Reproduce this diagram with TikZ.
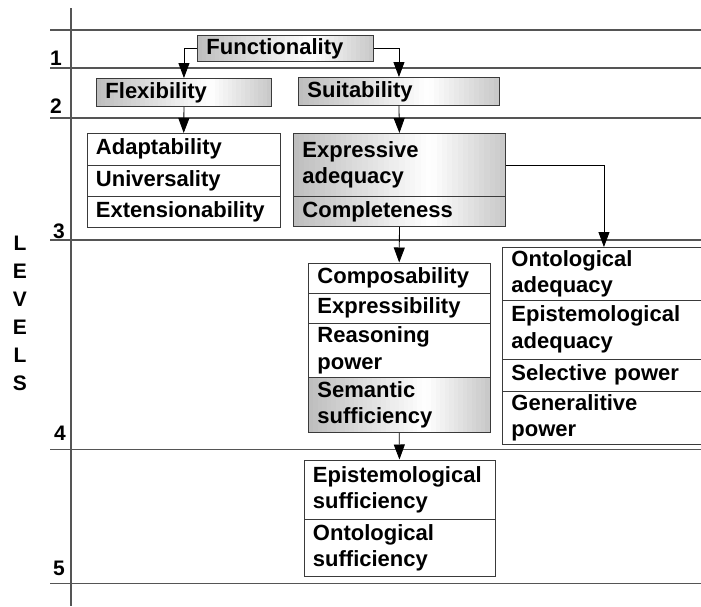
\documentclass[tikz,border=0pt]{standalone}
\usepackage{fontspec}
\setmainfont{Liberation Sans}
\usetikzlibrary{arrows.meta,calc}
\definecolor{boxline}{HTML}{3A3A3A}
\definecolor{levelgray}{HTML}{555555}
\definecolor{shadegray}{HTML}{BDBDBD}
\begin{document}
\begin{tikzpicture}[x=1pt,y=-1pt,
  cell/.style={draw=boxline, line width=0.9pt, anchor=north west,
    inner xsep=9pt, inner ysep=0pt, align=left, text=black,
    font=\bfseries\fontsize{22}{26.5}\selectfont},
  % banded horizontal gradient: gray at the left, white towards the right, gray again
  shaded/.style={path picture={
    \foreach \i in {0,...,39}{
      \pgfmathtruncatemacro\p{((\i+0.5)/40<0.65) ? (0.65-(\i+0.5)/40)/0.65*100 : ((\i+0.5)/40-0.65)/0.35*85}
      \fill[shadegray!\p!white]
        ($(path picture bounding box.south west)!{\i/40}!(path picture bounding box.south east)$)
        rectangle
        ($(path picture bounding box.north west)!{(\i+1.05)/40}!(path picture bounding box.north east)$);
    }}},
  levelline/.style={draw=levelgray, line width=1.3pt},
  link/.style={draw=black, line width=0.8pt, -{Triangle[length=15pt,width=11pt]}},
  levelnum/.style={anchor=base, inner sep=0pt, font=\bfseries\fontsize{21}{22}\selectfont}
]
\useasboundingbox (0,0) rectangle (701,606);

% level axis and separators
\draw[levelgray, line width=1.1pt] (71,8) -- (71,606);
\foreach \y in {30,68,118,240,449.3,583.3}
  \draw[levelline] (50,\y) -- (701,\y);

\node[levelnum] (n1) at (56,65) {1};
\node[levelnum] (n2) at (56,113) {2};
\node[levelnum] (n3) at (59,238) {3};
\node[levelnum] (n4) at (60,440) {4};
\node[levelnum] (n5) at (59,575) {5};
\node[anchor=north, inner sep=0pt, align=center,
  font=\bfseries\fontsize{21}{28}\selectfont] (levels) at (20,236)
  {L\\E\\V\\E\\L\\S};

% level 1 and 2
\node[cell, shaded, text width=158pt, minimum height=26pt] (func) at (197,35) {Functionality};
\node[cell, shaded, text width=157pt, minimum height=28pt] (flex) at (96,78) {Flexibility};
\node[cell, shaded, text width=183pt, minimum height=28pt] (suit) at (298,77) {Suitability};

% level 3
\node[cell, text width=175.5pt, minimum height=31.5pt] (adapt) at (86.5,133) {Adaptability};
\node[cell, text width=175.5pt, minimum height=31pt] (univ) at (86.5,164.5) {Universality};
\node[cell, text width=175.5pt, minimum height=31pt] (ext) at (86.5,195.5) {Extensionability};

\node[cell, shaded, text width=194pt, minimum height=63pt] (expr) at (293,133) {Expressive\\adequacy};
\node[cell, shaded, text width=194pt, minimum height=30pt] (compl) at (293,196) {Completeness};

% level 4
\node[cell, text width=163.5pt, minimum height=30pt] (compos) at (308,262.5) {Composability};
\node[cell, text width=163.5pt, minimum height=30.5pt] (exprb) at (308,292.5) {Expressibility};
\node[cell, text width=163.5pt, minimum height=54pt] (reason) at (308,323) {Reasoning\\power};
\node[cell, shaded, text width=163.5pt, minimum height=55pt] (sem) at (308,377) {Semantic\\sufficiency};

\node[cell, text width=185pt, minimum height=52.5pt] (ontoadq) at (502,247) {Ontological\\adequacy};
\node[cell, text width=185pt, minimum height=59pt] (epiadq) at (502,299.5) {Epistemological\\adequacy};
\node[cell, text width=185pt, minimum height=32.5pt] (sel) at (502,358.5) {Selective power};
\node[cell, text width=185pt, minimum height=53pt] (gen) at (502,391) {Generalitive\\power};

% level 5
\node[cell, text width=173pt, minimum height=59.5pt] (episuf) at (303.5,459.5) {Epistemological\\sufficiency};
\node[cell, text width=173pt, minimum height=56.5pt] (ontosuf) at (303.5,519) {Ontological\\sufficiency};

% connectors
\draw[link] (func.west) -| (flex.north);
\draw[link] (func.east) -| (suit.north);
\draw[link] (flex.south) -- (adapt.north);
\draw[link] (suit.south) -- (expr.north);
\draw[link] (expr.east) -| (ontoadq.north);
\draw[link] (compl.south) -- (compos.north);
\draw[link] (sem.south) -- (episuf.north);
\end{tikzpicture}
\end{document}
